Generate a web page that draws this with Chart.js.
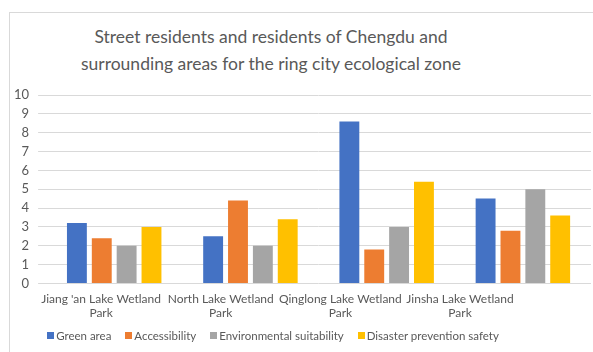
<!DOCTYPE html>
<html>
<head>
<meta charset="utf-8">
<script src="https://cdn.jsdelivr.net/npm/chart.js@4"></script>
<style>
  html, body { margin: 0; padding: 0; background: #fff; }
  #wrap { position: relative; width: 593px; height: 352px; overflow: hidden; font-family: Lato, sans-serif; }
  #frame { position: absolute; left: 9px; top: 12px; width: 600px; height: 360px; border: 1px solid #d9d9d9; box-sizing: border-box; }
  #title { position: absolute; left: 0; width: 542px; top: 23px; text-align: center; color: #595959; font-size: 17.5px; line-height: 27px; white-space: nowrap; }
  #chart { position: absolute; left: 0; top: 0; }
  #legend { position: absolute; left: 0; width: 546px; top: 327px; display: flex; justify-content: center; gap: 14px; color: #595959; font-size: 11.5px; line-height: 18px; white-space: nowrap; }
  #legend span.box { display: inline-block; width: 7px; height: 7px; margin-right: 2px; vertical-align: 1px; }
</style>
</head>
<body>
<div id="wrap">
  <div id="frame"></div>
  <div id="title">Street residents and residents of Chengdu and<br>surrounding areas for the ring city ecological zone</div>
  <canvas id="chart" width="593" height="352"></canvas>
  <div id="legend"></div>
</div>
<script>
const categories = [
  "Jiang 'an Lake Wetland Park",
  "North Lake Wetland Park",
  "Qinglong Lake Wetland Park",
  "Jinsha Lake Wetland Park",
];
const greenArea = [3.2, 2.5, 8.6, 4.5];
const accessibility = [2.4, 4.4, 1.8, 2.8];
const environmental = [2.0, 2.0, 3.0, 5.0];
const disasterSafety = [3.0, 3.4, 5.4, 3.6];
const yTicks = [0, 1, 2, 3, 4, 5, 6, 7, 8, 9, 10];

const textColor = "#595959";

// put the last word on its own line, as in the original
function wrapLabel(s) {
  const i = s.lastIndexOf(" ");
  return [s.slice(0, i), s.slice(i + 1)];
}

const chart = new Chart(document.getElementById("chart").getContext("2d"), {
  type: "bar",
  data: {
    labels: categories,
    datasets: [
      { label: "Green area", data: greenArea, backgroundColor: "#4472C4" },
      { label: "Accessibility", data: accessibility, backgroundColor: "#ED7D31" },
      { label: "Environmental suitability", data: environmental, backgroundColor: "#A5A5A5" },
      { label: "Disaster prevention safety", data: disasterSafety, backgroundColor: "#FFC000" },
    ],
  },
  options: {
    responsive: false,
    animation: false,
    categoryPercentage: 0.73,
    barPercentage: 0.8,
    layout: { padding: { top: 95, left: 5, right: 2, bottom: 31 } },
    plugins: {
      legend: { display: false },
      title: { display: false },
      tooltip: { enabled: false },
    },
    scales: {
      x: { display: false },
      // label axis: the original labels sit a bit left of the bar groups
      catLabels: {
        axis: "x",
        type: "linear",
        position: "bottom",
        offset: false,
        bounds: "data",
        min: -0.46,
        max: 4.095,
        afterBuildTicks: (scale) => {
          scale.ticks = categories.map((c, i) => ({ value: i }));
        },
        grid: { display: false, offset: false },
        border: { display: false },
        ticks: {
          autoSkip: false,
          maxRotation: 0,
          padding: 1,
          color: textColor,
          font: { family: "Lato", size: 12, lineHeight: 1.15 },
          callback: (v) => wrapLabel(categories[v]),
        },
      },
      y: {
        min: 0,
        max: 10,
        afterBuildTicks: (scale) => {
          scale.ticks = yTicks.map((v) => ({ value: v }));
        },
        grid: { color: "#D9D9D9", lineWidth: 1 },
        border: { display: false },
        ticks: {
          padding: 9,
          color: textColor,
          font: { family: "Lato", size: 13 },
        },
      },
    },
  },
});

// legend built from the datasets
const legend = document.getElementById("legend");
chart.data.datasets.forEach((ds) => {
  const item = document.createElement("div");
  item.innerHTML = '<span class="box" style="background:' + ds.backgroundColor + '"></span>' + ds.label;
  legend.appendChild(item);
});
</script>
</body>
</html>
